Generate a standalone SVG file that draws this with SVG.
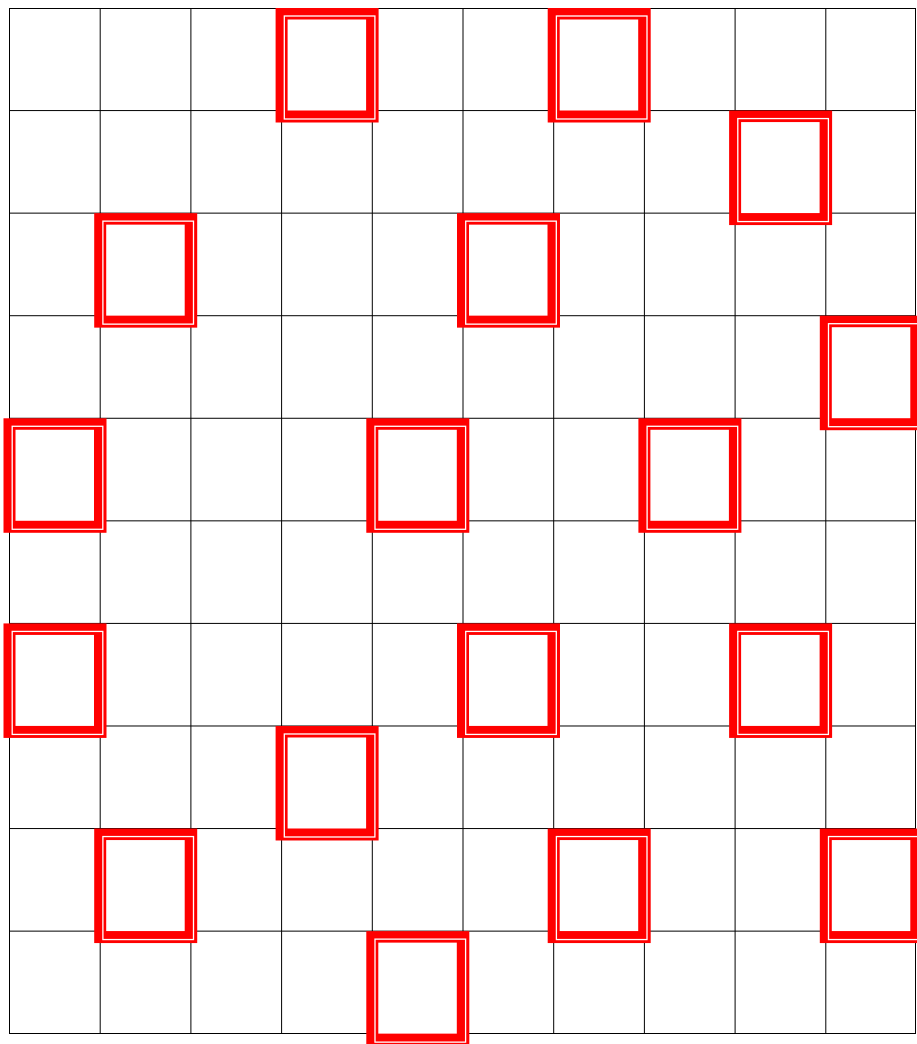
<svg xmlns="http://www.w3.org/2000/svg" xmlns:xlink="http://www.w3.org/1999/xlink" width="917" height="1044" viewBox="0 0 917 1044">
<style>
.grid{stroke:#000;stroke-width:1;fill:none}
.outer{fill:#ff0000}
.line{fill:none;stroke:#fff;stroke-width:1.3}
.inner{fill:#fff}
</style>
<defs>
<g id="sq">
<rect class="outer" x="-5.5" y="0" width="103" height="114.5"/>
<rect class="line" x="3.2" y="8" width="90.6" height="103"/>
<rect class="inner" x="6.5" y="11.5" width="78.5" height="91"/>
</g>
</defs>
<rect width="917" height="1044" fill="#fff"/>
<g id="connectors">
<path class="grid" d="M9.5,8V1034 M100.2,8V1034 M190.9,8V1034 M281.6,8V1034 M372.3,8V1034 M463,8V1034 M553.7,8V1034 M644.4,8V1034 M735.1,8V1034 M825.8,8V1034 M915.5,8V1034
M9,8.5H916 M9,110.57H916 M9,213.14H916 M9,315.71H916 M9,418.28H916 M9,520.85H916 M9,623.42H916 M9,725.99H916 M9,828.56H916 M9,931.13H916 M9,1033.5H916"/>
</g>
<g id="sq-r0c3"><use xlink:href="#sq" transform="translate(281.1,8)"/></g>
<g id="sq-r0c6"><use xlink:href="#sq" transform="translate(553.2,8)"/></g>
<g id="sq-r1c8"><use xlink:href="#sq" transform="translate(734.6,110.57)"/></g>
<g id="sq-r2c1"><use xlink:href="#sq" transform="translate(99.7,213.14)"/></g>
<g id="sq-r2c5"><use xlink:href="#sq" transform="translate(462.5,213.14)"/></g>
<g id="sq-r3c9"><use xlink:href="#sq" transform="translate(825.3,315.71)"/></g>
<g id="sq-r4c0"><use xlink:href="#sq" transform="translate(9,418.28)"/></g>
<g id="sq-r4c4"><use xlink:href="#sq" transform="translate(371.8,418.28)"/></g>
<g id="sq-r4c7"><use xlink:href="#sq" transform="translate(643.9,418.28)"/></g>
<g id="sq-r6c0"><use xlink:href="#sq" transform="translate(9,623.42)"/></g>
<g id="sq-r6c5"><use xlink:href="#sq" transform="translate(462.5,623.42)"/></g>
<g id="sq-r6c8"><use xlink:href="#sq" transform="translate(734.6,623.42)"/></g>
<g id="sq-r7c3"><use xlink:href="#sq" transform="translate(281.1,725.99)"/></g>
<g id="sq-r8c1"><use xlink:href="#sq" transform="translate(99.7,828.56)"/></g>
<g id="sq-r8c6"><use xlink:href="#sq" transform="translate(553.2,828.56)"/></g>
<g id="sq-r8c9"><use xlink:href="#sq" transform="translate(825.3,828.56)"/></g>
<g id="sq-r9c4"><use xlink:href="#sq" transform="translate(371.8,931.13)"/></g>
</svg>
